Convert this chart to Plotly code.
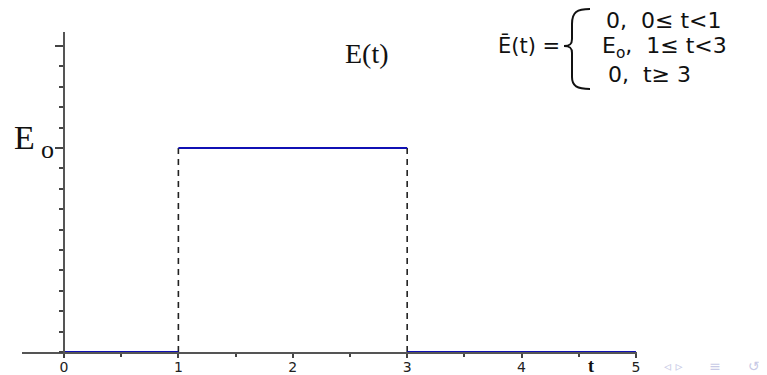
import plotly.graph_objects as go

# ---- data ----
t_edges = [0, 1, 3, 5]          # breakpoints of E(t)
levels = [0, 1, 0]              # E(t)/E0 on each interval
x_ticks = [0, 1, 2, 3, 4, 5]
y_tick_vals = [1, 1.5]

# build segments from the data
bx, by = [], []
for i, lv in enumerate(levels):
    bx += [t_edges[i], t_edges[i + 1], None]
    by += [lv, lv, None]
dx, dy = [], []
for j, t in enumerate(t_edges[1:-1]):
    dx += [t, t, None]
    dy += [levels[j], levels[j + 1], None]

OFF = 8                       # default page body margin
W, H = 767 - OFF, 375 - OFF
ML, MR, MT, MB = 22 - OFF, 767 - 637, 32 - OFF, 375 - 352
PW, PH = W - ML - MR, H - MT - MB


def px(x):
    return (x - OFF - ML) / PW


def py(y):
    return (H - MB - (y - OFF)) / PH


fig = go.Figure()
fig.add_trace(go.Scatter(x=dx, y=dy, mode="lines",
                         line=dict(color="#222222", width=1.6, dash="6px,5px"),
                         hoverinfo="skip"))
fig.add_trace(go.Scatter(x=bx, y=by, mode="lines",
                         line=dict(color="#1010b4", width=2.2),
                         hoverinfo="skip"))

fig.update_layout(
    width=W, height=H,
    margin=dict(l=ML, r=MR, t=MT, b=MB, pad=0, autoexpand=False),
    paper_bgcolor="white", plot_bgcolor="white",
    showlegend=False,
    xaxis=dict(range=[-0.367, 5.009], showgrid=False, zeroline=False, automargin=False,
               showline=True, linecolor="#555555", linewidth=1.5,
               ticks="outside", ticklen=4, tickwidth=1.5, tickcolor="#444444",
               tickvals=x_ticks, ticktext=[str(v) for v in x_ticks],
               ticklabelstandoff=-3,
               tickfont=dict(family="DejaVu Sans", size=14, color="#222222"),
               minor=dict(dtick=0.5, ticks="outside", ticklen=3, tickwidth=1.5,
                          tickcolor="#444444", showgrid=False),
               fixedrange=True),
    yaxis=dict(range=[0, 320 / 204], showgrid=False, zeroline=False, automargin=False,
               anchor="free", position=px(64),
               showline=True, linecolor="#555555", linewidth=1.5,
               ticks="outside", ticklen=8, tickwidth=1.5, tickcolor="#444444",
               tickvals=y_tick_vals, showticklabels=False,
               minor=dict(dtick=0.1, tick0=0, ticks="outside", ticklen=4,
                          tickwidth=1.5, tickcolor="#444444", showgrid=False),
               fixedrange=True),
)

ann = [
    dict(text="E", x=px(24), y=py(137), font=dict(family="Liberation Serif", size=34, color="#111")),
    dict(text="o", x=px(47), y=py(149), font=dict(family="Liberation Serif", size=26, color="#111")),
    dict(text="E(t)", x=px(367), y=py(53), font=dict(family="Liberation Serif", size=28, color="#111")),
    dict(text="<b>t</b>", x=px(591), y=py(366), font=dict(family="Liberation Serif", size=18, color="#111")),
    dict(text="Ē(t) =", x=px(529), y=py(46), font=dict(family="DejaVu Sans", size=21, color="#111")),
    dict(text="0,  0≤ t<1", x=px(604), y=py(21), xanchor="left", font=dict(family="DejaVu Sans", size=22, color="#111")),
    dict(text="E<sub>o</sub>,  1≤ t<3", x=px(600), y=py(47), xanchor="left", font=dict(family="DejaVu Sans", size=22, color="#111")),
    dict(text="0,  t≥ 3", x=px(606), y=py(74), xanchor="left", font=dict(family="DejaVu Sans", size=22, color="#111")),
    dict(text="◃ ▹      ≡      ↺", x=px(662), y=py(366), xanchor="left", font=dict(family="DejaVu Sans", size=14, color="#c8cae6")),
]
for a in ann:
    a.setdefault("xanchor", "center")
    fig.add_annotation(xref="paper", yref="paper", showarrow=False, yanchor="middle", **a)

# hand-drawn brace
pts = "M {a},{b} C {c},{b} {d},{e} {d},{f} L {d},{g} C {d},{h} {i},{j} {k},{j} C {i},{j} {d},{l} {d},{m} L {d},{n} C {d},{o} {c},{p} {a},{p}"
brace = pts.format(
    a=px(590), b=py(9), c=px(577), d=px(572), e=py(12), f=py(24), g=py(39),
    h=py(44), i=px(570), j=py(46), k=px(564), l=py(48), m=py(53), n=py(77),
    o=py(86), p=py(89))
fig.add_shape(type="path", path=brace, xref="paper", yref="paper",
              line=dict(color="#111", width=2))

fig.write_html("out.html")
